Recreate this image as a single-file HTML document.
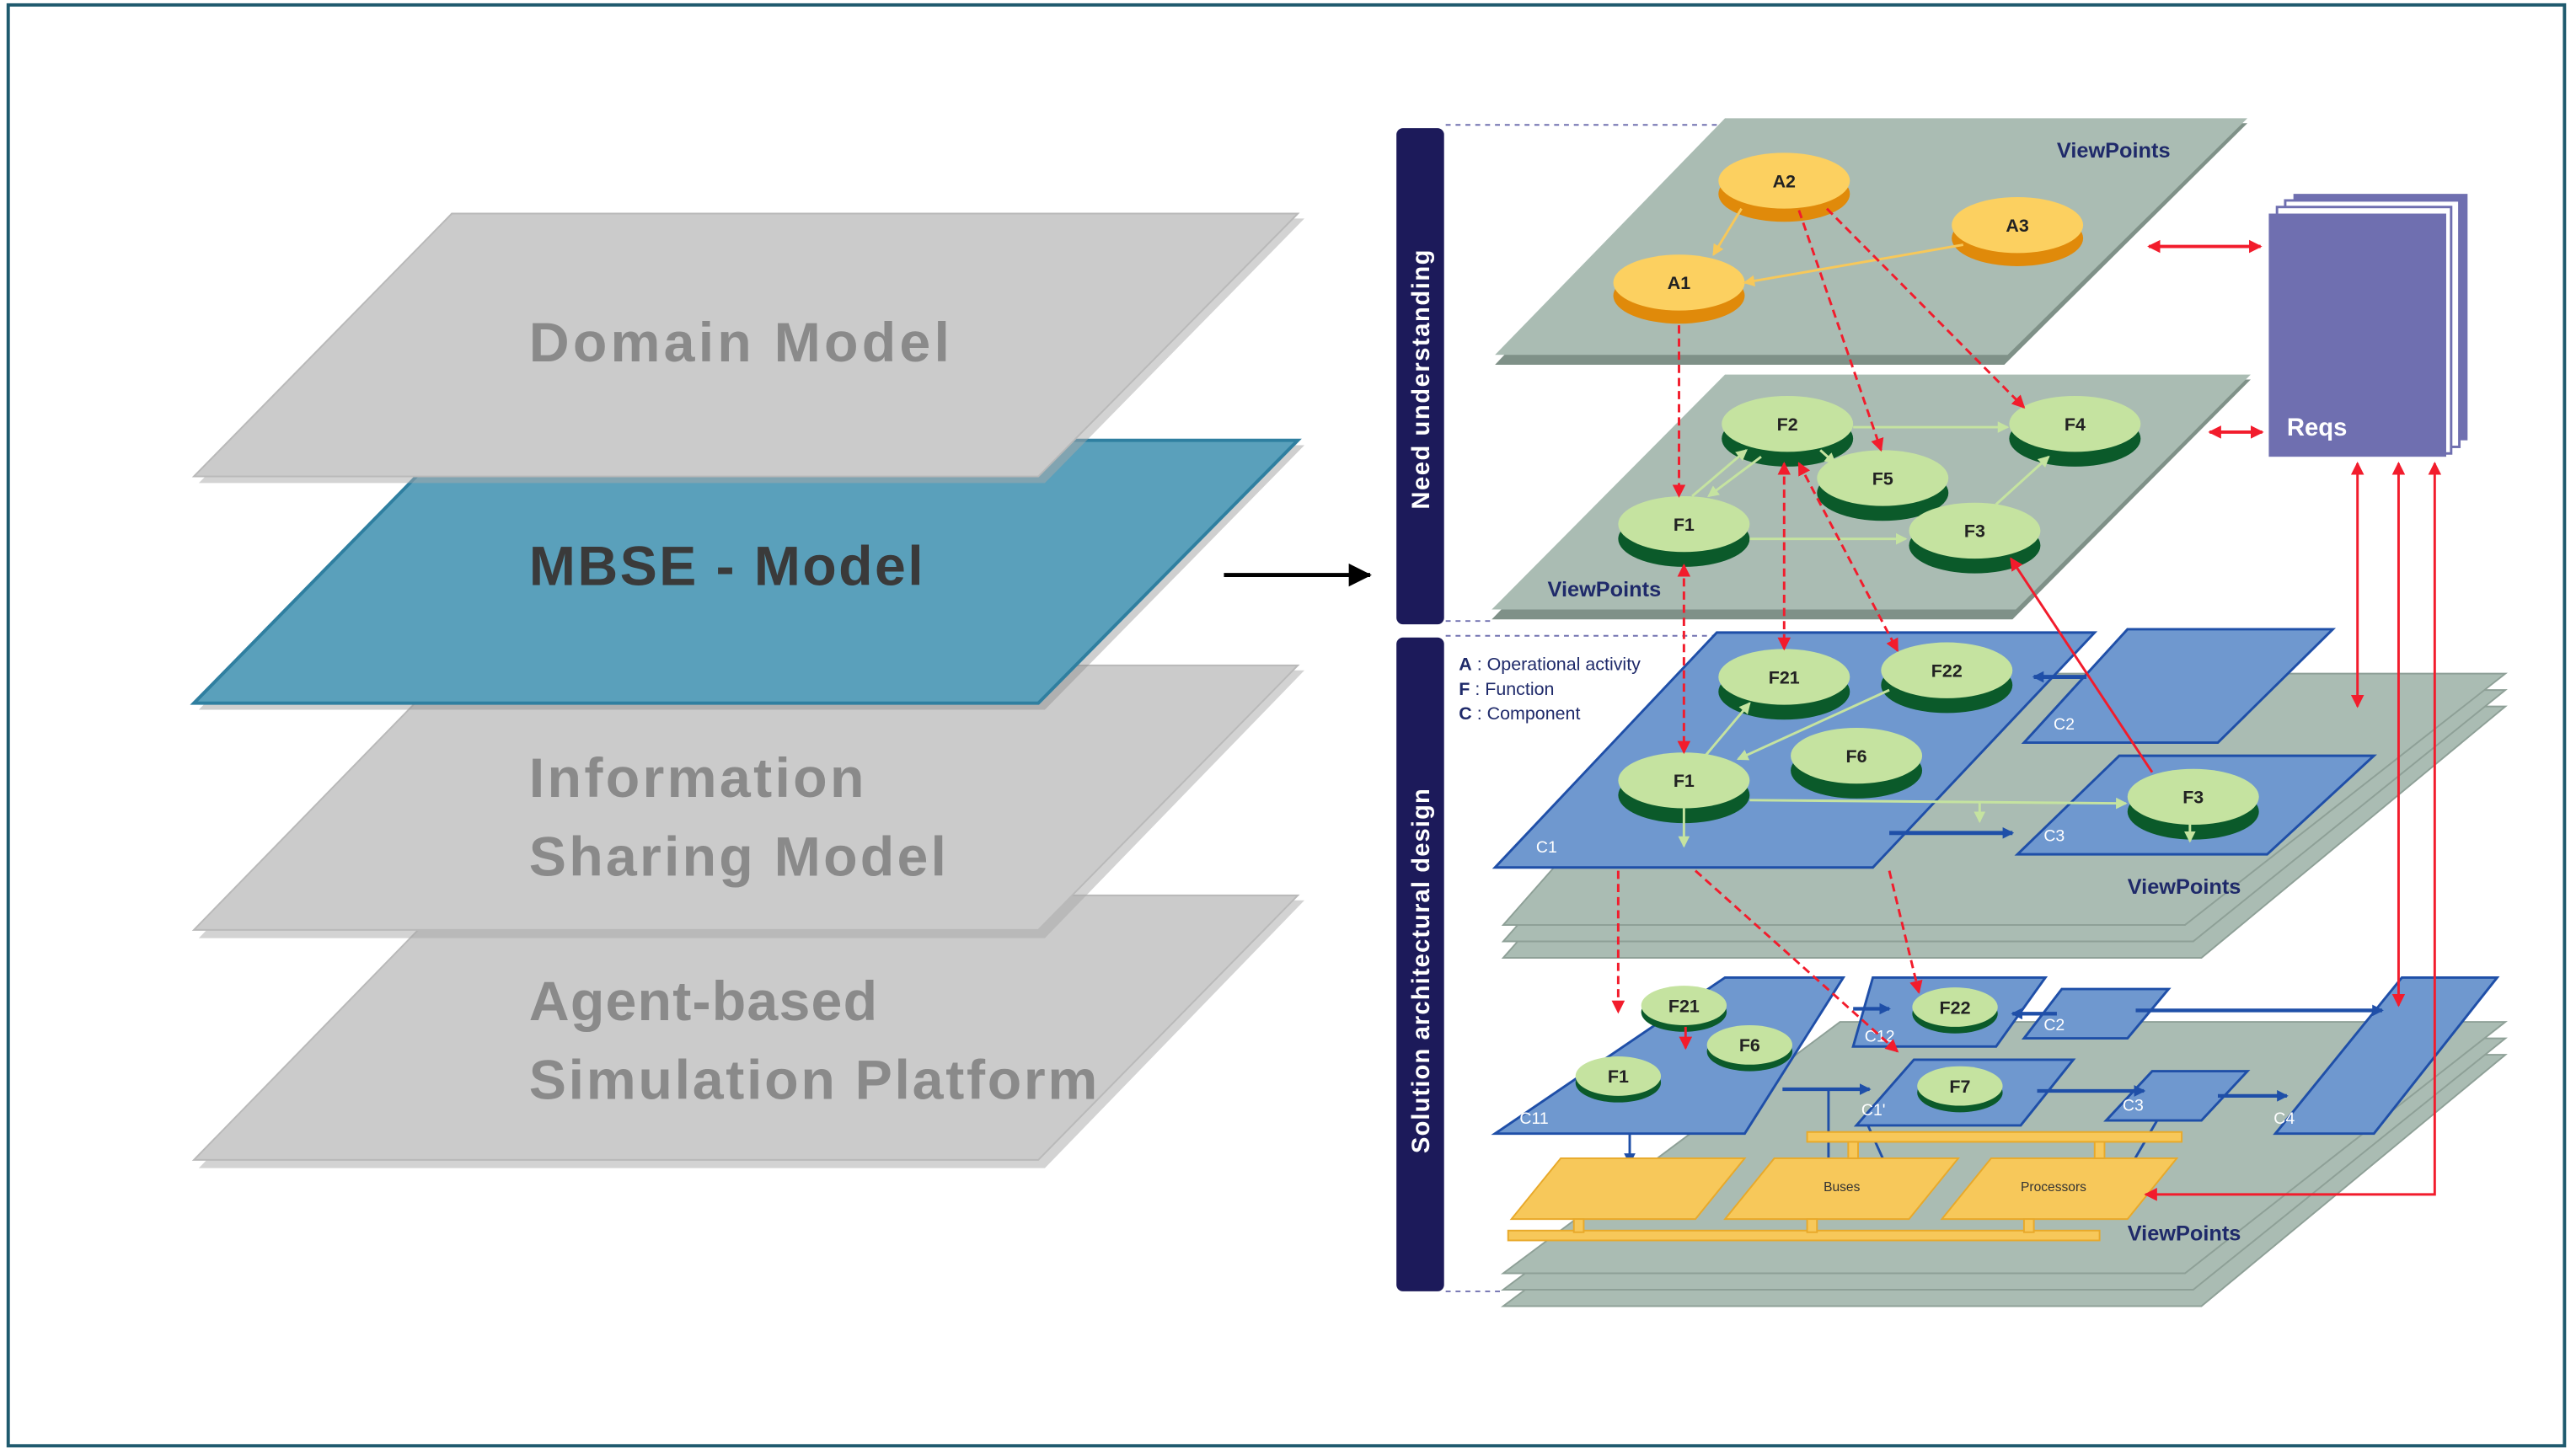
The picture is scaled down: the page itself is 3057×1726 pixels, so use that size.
<!DOCTYPE html>
<html><head><meta charset="utf-8"><style>
html,body{margin:0;padding:0;background:#fff;width:3057px;height:1726px;overflow:hidden}
svg{display:block}
text{font-family:"Liberation Sans",sans-serif}
</style></head><body>
<svg width="3057" height="1726" viewBox="0 0 1568 885" preserveAspectRatio="none" xmlns="http://www.w3.org/2000/svg">
<defs>
<marker id="r" markerWidth="8" markerHeight="8" refX="7" refY="4" orient="auto" markerUnits="userSpaceOnUse"><path d="M0,0 L8,4 L0,8 z" fill="#f21c2c"/></marker>
<marker id="rs" markerWidth="8" markerHeight="8" refX="1" refY="4" orient="auto" markerUnits="userSpaceOnUse"><path d="M8,0 L0,4 L8,8 z" fill="#f21c2c"/></marker>
<marker id="g" markerWidth="7" markerHeight="7" refX="6" refY="3.5" orient="auto" markerUnits="userSpaceOnUse"><path d="M0,0 L7,3.5 L0,7 z" fill="#c5e3a0"/></marker>
<marker id="o" markerWidth="7" markerHeight="7" refX="6" refY="3.5" orient="auto" markerUnits="userSpaceOnUse"><path d="M0,0 L7,3.5 L0,7 z" fill="#f7c85a"/></marker>
<marker id="b" markerWidth="7" markerHeight="7" refX="6" refY="3.5" orient="auto" markerUnits="userSpaceOnUse"><path d="M0,0 L7,3.5 L0,7 z" fill="#1f4fa8"/></marker>
<marker id="k" markerWidth="14" markerHeight="14" refX="13" refY="7" orient="auto" markerUnits="userSpaceOnUse"><path d="M0,0 L14,7 L0,14 z" fill="#000"/></marker>
</defs>
<rect x="5" y="3" width="1556" height="877" fill="#fff" stroke="#1f5a6e" stroke-width="2"/>

<!-- left stack -->
<g>
<polygon points="279,548 794,548 636,711 121,711" fill="#a8a8a8" opacity=".5"/>
<polygon points="275,545 790,545 632,706 118,706" fill="#cbcbcb" stroke="#b9b9b9"/>
<polygon points="279,408 794,408 636,571 121,571" fill="#a8a8a8" opacity=".5"/>
<polygon points="275,405 790,405 632,566 118,566" fill="#cbcbcb" stroke="#b9b9b9"/>
<polygon points="279,271 794,271 636,432 121,432" fill="#888" opacity=".4"/>
<polygon points="275,268 790,268 632,428 118,428" fill="#5aa0bb" stroke="#2f7fa0" stroke-width="2"/>
<polygon points="279,133 794,133 636,294 121,294" fill="#a8a8a8" opacity=".5"/>
<polygon points="275,130 790,130 632,290 118,290" fill="#cbcbcb" stroke="#b9b9b9"/>
<text x="322" y="220" font-size="34" font-weight="bold" fill="#8a8a8a" textLength="256">Domain Model</text>
<text x="322" y="356" font-size="34" font-weight="bold" fill="#3a3a3a" textLength="240">MBSE - Model</text>
<text x="322" y="485" font-size="34" font-weight="bold" fill="#8a8a8a" textLength="204">Information</text>
<text x="322" y="533" font-size="34" font-weight="bold" fill="#8a8a8a" textLength="254">Sharing Model</text>
<text x="322" y="621" font-size="34" font-weight="bold" fill="#8a8a8a" textLength="212">Agent-based</text>
<text x="322" y="669" font-size="34" font-weight="bold" fill="#8a8a8a" textLength="346">Simulation Platform</text>
<line x1="745" y1="350" x2="834" y2="350" stroke="#000" stroke-width="2.5" marker-end="url(#k)"/>
</g>

<!-- bars -->
<rect x="850" y="78" width="29" height="302" rx="4" fill="#1c1a5a"/>
<rect x="850" y="388" width="29" height="398" rx="4" fill="#1c1a5a"/>
<text transform="translate(870,310) rotate(-90)" font-size="15" font-weight="bold" fill="#fff" textLength="158">Need understanding</text>
<text transform="translate(870,702) rotate(-90)" font-size="15" font-weight="bold" fill="#fff" textLength="222">Solution architectural design</text>
<g stroke="#7070b0" stroke-dasharray="3,3" stroke-width="1">
<line x1="880" y1="76" x2="1050" y2="76"/><line x1="880" y1="378" x2="910" y2="378"/>
<line x1="880" y1="387" x2="1050" y2="387"/><line x1="880" y1="786" x2="915" y2="786"/>
</g>

<!-- top plane -->
<polygon points="1050,75 1368,75 1220,222 910,222" fill="#7f9188"/>
<polygon points="1050,72 1368,72 1222,216 910,216" fill="#aabcb3"/>
<text x="1252" y="96" font-size="13" font-weight="bold" fill="#1f2a6a">ViewPoints</text>
<!-- second plane -->
<polygon points="1050,231 1370,231 1225,377 908,377" fill="#7f9188"/>
<polygon points="1050,228 1370,228 1227,371 908,371" fill="#aabcb3"/>
<text x="942" y="363" font-size="13" font-weight="bold" fill="#1f2a6a">ViewPoints</text>

<!-- Reqs -->
<rect x="1396" y="118" width="106" height="150" fill="#6f6fb0"/>
<rect x="1391" y="122" width="106" height="150" fill="#fff" stroke="#6f6fb0" stroke-width="1.5"/>
<rect x="1386" y="126" width="106" height="150" fill="#fff" stroke="#6f6fb0" stroke-width="1.5"/>
<rect x="1381" y="130" width="108" height="148" fill="#6f6fb0"/>
<text x="1392" y="265" font-size="15" font-weight="bold" fill="#fff">Reqs</text>

<!-- gray stacks solution -->
<g fill="#aabcb3" stroke="#8ea097">
<polygon points="1050,430 1525,430 1340,583 915,583"/>
<polygon points="1050,420 1525,420 1335,573 915,573"/>
<polygon points="1050,410 1525,410 1330,563 915,563"/>
<polygon points="1120,642 1525,642 1340,795 915,795"/>
<polygon points="1120,632 1525,632 1335,785 915,785"/>
<polygon points="1120,622 1525,622 1330,775 915,775"/>
</g>
<text x="1295" y="544" font-size="13" font-weight="bold" fill="#1f2a6a">ViewPoints</text>
<text x="1295" y="755" font-size="13" font-weight="bold" fill="#1f2a6a">ViewPoints</text>

<!-- blue components upper -->
<g fill="#6f98cf" stroke="#1f4fa8" stroke-width="1.5">
<polygon points="1045,385 1275,385 1140,528 910,528"/>
<polygon points="1295,383 1420,383 1350,452 1232,452"/>
<polygon points="1290,460 1445,460 1380,520 1228,520"/>
</g>
<g stroke="#1f4fa8" stroke-width="2.5"><line x1="1270" y1="412" x2="1238" y2="412" marker-end="url(#b)"/><line x1="1150" y1="507" x2="1225" y2="507" marker-end="url(#b)"/></g>
<text x="935" y="519" font-size="10" fill="#fff">C1</text>
<text x="1250" y="444" font-size="10" fill="#fff">C2</text>
<text x="1244" y="512" font-size="10" fill="#fff">C3</text>
<text x="888" y="408" font-size="11" fill="#1f2a6a"><tspan font-weight="bold">A</tspan> : Operational activity</text>
<text x="888" y="423" font-size="11" fill="#1f2a6a"><tspan font-weight="bold">F</tspan> : Function</text>
<text x="888" y="438" font-size="11" fill="#1f2a6a"><tspan font-weight="bold">C</tspan> : Component</text>

<!-- lower components -->
<g fill="#6f98cf" stroke="#1f4fa8" stroke-width="1.5">
<polygon points="1050,595 1122,595 1062,690 910,690"/>
<polygon points="1140,595 1245,595 1215,637 1128,637"/>
<polygon points="1255,602 1320,602 1295,632 1232,632"/>
<polygon points="1165,645 1262,645 1230,685 1130,685"/>
<polygon points="1310,652 1368,652 1340,682 1282,682"/>
<polygon points="1462,595 1520,595 1445,690 1385,690"/>
</g>
<g stroke="#1f4fa8" stroke-width="2.2">
<line x1="1128" y1="614" x2="1150" y2="614" marker-end="url(#b)"/>
<line x1="1252" y1="617" x2="1225" y2="617" marker-end="url(#b)"/>
<line x1="1300" y1="615" x2="1450" y2="615" marker-end="url(#b)"/>
<line x1="1085" y1="663" x2="1138" y2="663" marker-end="url(#b)"/>
<line x1="1240" y1="664" x2="1305" y2="664" marker-end="url(#b)"/>
<line x1="1350" y1="667" x2="1392" y2="667" marker-end="url(#b)"/>
</g>
<g stroke="#1f4fa8" stroke-width="1.5">
<line x1="992" y1="690" x2="992" y2="708" marker-end="url(#b)"/>
<line x1="1113" y1="663" x2="1113" y2="730" marker-end="url(#b)"/>
<line x1="1137" y1="685" x2="1155" y2="725" marker-end="url(#b)"/>
<line x1="1313" y1="682" x2="1295" y2="713" marker-end="url(#b)"/>
</g>
<g font-size="10" fill="#fff"><text x="925" y="684">C11</text><text x="1135" y="634">C12</text><text x="1244" y="627">C2</text><text x="1133" y="679">C1'</text><text x="1292" y="676">C3</text><text x="1384" y="684">C4</text></g>

<!-- yellow -->
<g fill="#f7c85a" stroke="#e8a92a" stroke-width="1">
<rect x="1100" y="689" width="228" height="6"/>
<rect x="918" y="749" width="360" height="6"/>
<polygon points="950,705 1062,705 1032,742 920,742"/>
<polygon points="1080,705 1192,705 1162,742 1050,742"/>
<polygon points="1212,705 1325,705 1295,742 1182,742"/>
<rect x="958" y="742" width="6" height="8"/><rect x="1100" y="742" width="6" height="8"/><rect x="1232" y="742" width="6" height="8"/>
<rect x="1125" y="695" width="6" height="10"/><rect x="1275" y="695" width="6" height="10"/>
</g>
<text x="1110" y="725" font-size="8" fill="#333">Buses</text>
<text x="1230" y="725" font-size="8" fill="#333">Processors</text>

<!-- ellipses -->
<g font-size="11" font-weight="bold" text-anchor="middle" fill="#222">
<g fill="#e08a0a"><ellipse cx="1086" cy="118" rx="40" ry="17"/><ellipse cx="1228" cy="145" rx="40" ry="17"/><ellipse cx="1022" cy="180" rx="40" ry="17"/></g>
<g fill="#fcd060"><ellipse cx="1086" cy="110" rx="40" ry="17"/><ellipse cx="1228" cy="137" rx="40" ry="17"/><ellipse cx="1022" cy="172" rx="40" ry="17"/></g>
<text x="1086" y="114">A2</text><text x="1228" y="141">A3</text><text x="1022" y="176">A1</text>
<g fill="#0b5a2a"><ellipse cx="1088" cy="267" rx="40" ry="17"/><ellipse cx="1263" cy="267" rx="40" ry="17"/><ellipse cx="1146" cy="300" rx="40" ry="17"/><ellipse cx="1025" cy="328" rx="40" ry="17"/><ellipse cx="1202" cy="332" rx="40" ry="17"/>
<ellipse cx="1086" cy="421" rx="40" ry="17"/><ellipse cx="1185" cy="417" rx="40" ry="17"/><ellipse cx="1130" cy="469" rx="40" ry="17"/><ellipse cx="1025" cy="484" rx="40" ry="17"/><ellipse cx="1335" cy="494" rx="40" ry="17"/>
<ellipse cx="1025" cy="616" rx="26" ry="12"/><ellipse cx="1065" cy="640" rx="26" ry="12"/><ellipse cx="985" cy="659" rx="26" ry="12"/><ellipse cx="1190" cy="617" rx="26" ry="12"/><ellipse cx="1193" cy="665" rx="26" ry="12"/></g>
<g fill="#c5e3a0"><ellipse cx="1088" cy="258" rx="40" ry="17"/><ellipse cx="1263" cy="258" rx="40" ry="17"/><ellipse cx="1146" cy="291" rx="40" ry="17"/><ellipse cx="1025" cy="319" rx="40" ry="17"/><ellipse cx="1202" cy="323" rx="40" ry="17"/>
<ellipse cx="1086" cy="412" rx="40" ry="17"/><ellipse cx="1185" cy="408" rx="40" ry="17"/><ellipse cx="1130" cy="460" rx="40" ry="17"/><ellipse cx="1025" cy="475" rx="40" ry="17"/><ellipse cx="1335" cy="485" rx="40" ry="17"/>
<ellipse cx="1025" cy="612" rx="26" ry="12"/><ellipse cx="1065" cy="636" rx="26" ry="12"/><ellipse cx="985" cy="655" rx="26" ry="12"/><ellipse cx="1190" cy="613" rx="26" ry="12"/><ellipse cx="1193" cy="661" rx="26" ry="12"/></g>
<text x="1088" y="262">F2</text><text x="1263" y="262">F4</text><text x="1146" y="295">F5</text><text x="1025" y="323">F1</text><text x="1202" y="327">F3</text>
<text x="1086" y="416">F21</text><text x="1185" y="412">F22</text><text x="1130" y="464">F6</text><text x="1025" y="479">F1</text><text x="1335" y="489">F3</text>
<text x="1025" y="616">F21</text><text x="1065" y="640">F6</text><text x="985" y="659">F1</text><text x="1190" y="617">F22</text><text x="1193" y="665">F7</text>
</g>

<!-- orange / green arrows -->
<g stroke="#f7c85a" stroke-width="1.5"><line x1="1060" y1="127" x2="1043" y2="155" marker-end="url(#o)"/><line x1="1195" y1="149" x2="1062" y2="172" marker-end="url(#o)"/></g>
<g stroke="#c5e3a0" stroke-width="1.5">
<line x1="1128" y1="260" x2="1222" y2="260" marker-end="url(#g)"/>
<line x1="1065" y1="328" x2="1160" y2="328" marker-end="url(#g)"/>
<line x1="1215" y1="307" x2="1247" y2="278" marker-end="url(#g)"/>
<line x1="1030" y1="302" x2="1063" y2="274" marker-end="url(#g)"/>
<line x1="1072" y1="278" x2="1040" y2="302" marker-end="url(#g)"/>
<line x1="1108" y1="274" x2="1117" y2="282" marker-end="url(#g)"/>
<line x1="1038" y1="460" x2="1065" y2="428" marker-end="url(#g)"/>
<line x1="1150" y1="420" x2="1058" y2="462" marker-end="url(#g)"/>
<line x1="1065" y1="487" x2="1294" y2="489" marker-end="url(#g)"/>
<line x1="1025" y1="492" x2="1025" y2="515" marker-end="url(#g)"/>
<line x1="1205" y1="488" x2="1205" y2="500" marker-end="url(#g)"/>
<line x1="1333" y1="500" x2="1333" y2="512" marker-end="url(#g)"/>
</g>

<!-- red -->
<g stroke="#f21c2c" stroke-width="1.5" fill="none">
<line x1="1022" y1="198" x2="1022" y2="302" stroke-dasharray="5,3" marker-end="url(#r)"/>
<line x1="1095" y1="128" x2="1145" y2="274" stroke-dasharray="5,3" marker-end="url(#r)"/>
<line x1="1112" y1="127" x2="1232" y2="248" stroke-dasharray="5,3" marker-end="url(#r)"/>
<line x1="1025" y1="344" x2="1025" y2="458" stroke-dasharray="5,3" marker-start="url(#rs)" marker-end="url(#r)"/>
<line x1="1086" y1="282" x2="1086" y2="395" stroke-dasharray="5,3" marker-start="url(#rs)" marker-end="url(#r)"/>
<line x1="1095" y1="282" x2="1155" y2="396" stroke-dasharray="5,3" marker-start="url(#rs)" marker-end="url(#r)"/>
<line x1="1310" y1="470" x2="1224" y2="340" marker-end="url(#r)"/>
<line x1="985" y1="530" x2="985" y2="616" stroke-dasharray="5,3" marker-end="url(#r)"/>
<line x1="1032" y1="530" x2="1155" y2="640" stroke-dasharray="5,3" marker-end="url(#r)"/>
<line x1="1150" y1="530" x2="1168" y2="604" stroke-dasharray="5,3" marker-end="url(#r)"/>
<line x1="1026" y1="625" x2="1026" y2="638" marker-end="url(#r)"/>
<line x1="1308" y1="150" x2="1376" y2="150" stroke-width="2" marker-start="url(#rs)" marker-end="url(#r)"/>
<line x1="1345" y1="263" x2="1377" y2="263" stroke-width="2" marker-start="url(#rs)" marker-end="url(#r)"/>
<line x1="1435" y1="282" x2="1435" y2="430" marker-start="url(#rs)" marker-end="url(#r)"/>
<line x1="1460" y1="282" x2="1460" y2="612" marker-start="url(#rs)" marker-end="url(#r)"/>
<polyline points="1482,282 1482,727 1306,727" marker-start="url(#rs)" marker-end="url(#r)"/>
</g>
</svg>
</body></html>
